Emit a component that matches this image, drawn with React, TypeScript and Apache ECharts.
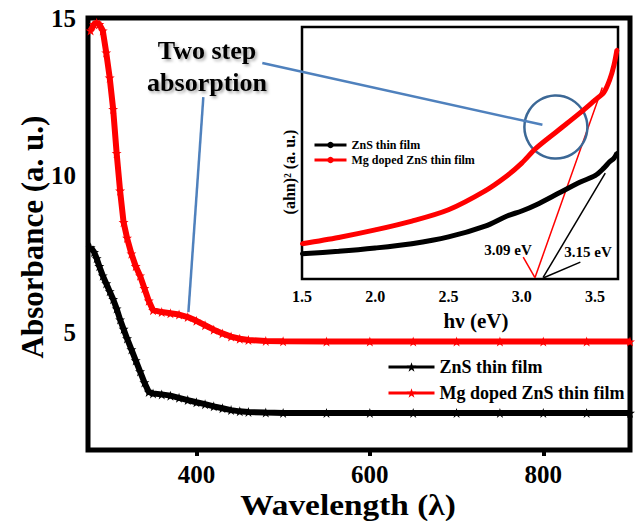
import React, { useEffect, useRef } from "react";
import * as echarts from "echarts";

// ---- Main chart data (wavelength in nm, absorbance a.u.) ----
const wavelength = [278, 282, 285, 288, 292, 296, 300, 304, 308, 312, 316, 320, 325, 330, 335, 340, 345, 350, 360, 370, 380, 390, 400, 410, 420, 430, 440, 450, 460, 480, 500, 550, 600, 650, 700, 750, 800, 850, 900];
const znsAbs = [7.7, 7.55, 7.35, 7.1, 6.8, 6.55, 6.3, 6.05, 5.75, 5.4, 5.1, 4.8, 4.45, 4.1, 3.75, 3.4, 3.1, 3.05, 3.02, 2.98, 2.91, 2.84, 2.77, 2.71, 2.64, 2.58, 2.52, 2.48, 2.46, 2.44, 2.43, 2.43, 2.43, 2.43, 2.43, 2.43, 2.43, 2.43, 2.43];
const mgAbs = [14.6, 14.8, 14.85, 14.8, 14.6, 13.9, 13.1, 12.1, 10.7, 9.5, 8.5, 8.0, 7.5, 7.1, 6.8, 6.4, 6.0, 5.7, 5.64, 5.6, 5.56, 5.48, 5.36, 5.22, 5.08, 4.96, 4.86, 4.79, 4.75, 4.72, 4.71, 4.7, 4.7, 4.7, 4.7, 4.7, 4.7, 4.7, 4.7];
const xTicks = [400, 600, 800];
const yTicks = [5, 10, 15];

// ---- Inset data (photon energy eV, (ahn)^2 a.u.) ----
const hv = [1.5, 1.75, 2.0, 2.25, 2.5, 2.75, 2.9, 3.0, 3.1, 3.25, 3.4, 3.5, 3.56, 3.6, 3.63, 3.65];
const insetMg = [14, 16.5, 19.5, 23, 27.5, 35, 41, 46, 52, 59, 66, 71, 74, 79, 85, 91];
const insetZnS = [10, 11, 12.3, 14, 16.7, 21, 25, 27, 29.5, 34, 38.5, 41, 44, 46.5, 48, 50];
const insetTicks = [1.5, 2.0, 2.5, 3.0, 3.5];
const gapMg = 3.09;
const gapZnS = 3.15;

const STAR = "path://M50,0 L61.8,35.1 L98.9,35.1 L68.9,56.8 L80.3,91.9 L50,70.2 L19.7,91.9 L31.1,56.8 L1.1,35.1 L38.2,35.1 Z";
const FONT = "Times New Roman, Liberation Serif, Tinos, serif";
const BLUE = "#4F81BD";

export default function App() {
  const ref = useRef<HTMLDivElement>(null);
  useEffect(() => {
    if (!ref.current) return;
    const chart = echarts.init(ref.current, null, { renderer: "svg" });
    const lbl = (fs: number) => ({ fontFamily: FONT, fontWeight: "bold" as const, fontSize: fs, color: "#000" });
    const gtext = (text: string, x: number, y: number, fs: number, rot = 0, shadow = false, sx = 1) => ({
      type: "text", x, y, rotation: rot, scaleX: sx, z: 20,
      style: {
        text, fontFamily: FONT, fontWeight: "bold", fontSize: fs, fill: "#000", align: "center", verticalAlign: "middle",
        ...(shadow ? { textShadowColor: "rgba(0,0,0,0.35)", textShadowBlur: 3, textShadowOffsetX: 2, textShadowOffsetY: 2 } : {}),
      },
    });
    const option: any = {
      animation: false,
      textStyle: { fontFamily: FONT },
      grid: [
        { left: 88, top: 18, right: 5, bottom: 71, show: true, borderColor: "#000", borderWidth: 5, backgroundColor: "#fff" },
        { left: 302, top: 27, width: 316, height: 252, show: true, borderColor: "#000", borderWidth: 2.5, backgroundColor: "#fff", z: 3 },
      ],
      xAxis: [
        {
          gridIndex: 0, type: "value", min: 275, max: 900,
          axisLine: { show: false }, splitLine: { show: false },
          axisTick: { show: true, inside: false, length: 6, lineStyle: { width: 4, color: "#000" }, customValues: xTicks },
          axisLabel: { ...lbl(25), margin: 12, customValues: xTicks },
        },
        {
          gridIndex: 1, type: "value", min: 1.5, max: 3.657,
          axisLine: { show: false }, splitLine: { show: false },
          axisTick: { show: false },
          axisLabel: { ...lbl(16), margin: 9, customValues: insetTicks, formatter: (v: number) => v.toFixed(1) },
        },
      ],
      yAxis: [
        {
          gridIndex: 0, type: "value", min: 1.25, max: 15,
          axisLine: { show: false }, splitLine: { show: false }, axisTick: { show: false },
          axisLabel: { ...lbl(25), margin: 12, customValues: yTicks },
        },
        {
          gridIndex: 1, type: "value", min: 0, max: 100,
          axisLine: { show: false }, splitLine: { show: false }, axisTick: { show: false }, axisLabel: { show: false },
        },
      ],
      legend: [
        {
          data: ["ZnS thin film", "Mg doped ZnS thin film"],
          orient: "vertical", left: 382, top: 353, itemWidth: 46, itemHeight: 12, itemGap: 8,
          textStyle: lbl(18), lineStyle: { width: 3 },
        },
        {
          data: ["inset ZnS", "inset Mg"],
          orient: "vertical", left: 308, top: 134, itemWidth: 32, itemHeight: 8, itemGap: 3, z: 10,
          textStyle: lbl(12), lineStyle: { width: 3 },
          formatter: (n: string) => (n === "inset ZnS" ? "ZnS thin film" : "Mg doped ZnS thin film"),
        },
      ],
      series: [
        {
          name: "ZnS thin film", type: "line", xAxisIndex: 0, yAxisIndex: 0,
          data: wavelength.map((w, i) => [w, znsAbs[i]]),
          symbol: STAR, symbolSize: 10, showAllSymbol: true,
          lineStyle: { color: "#000", width: 6 }, itemStyle: { color: "#000" },
        },
        {
          name: "Mg doped ZnS thin film", type: "line", xAxisIndex: 0, yAxisIndex: 0,
          data: wavelength.map((w, i) => [w, mgAbs[i]]),
          symbol: STAR, symbolSize: 10, showAllSymbol: true,
          lineStyle: { color: "#ff0000", width: 6 }, itemStyle: { color: "#ff0000" },
          markLine: {
            silent: true, symbol: ["none", "arrow"], symbolSize: [0, 11], z: 20,
            label: { show: false },
            lineStyle: { color: BLUE, width: 2.5, type: "solid" },
            data: [
              [{ coord: [476, 13.57] }, { coord: [799, 11.6] }],
              [{ coord: [408, 12.48] }, { coord: [390.8, 5.64] }],
            ],
          },
        },
        {
          name: "inset ZnS", type: "line", xAxisIndex: 1, yAxisIndex: 1, z: 5,
          data: hv.map((x, i) => [x, insetZnS[i]]), smooth: 0.3,
          symbol: "circle", symbolSize: 4, showAllSymbol: true,
          lineStyle: { color: "#000", width: 5 }, itemStyle: { color: "#000" },
          markLine: {
            silent: true, symbol: ["none", "arrow"], symbolSize: [0, 8],
            label: { show: false },
            lineStyle: { color: "#000", width: 1.5, type: "solid" },
            data: [
              [{ coord: [3.57, 42] }, { coord: [gapZnS - 0.005, 0.5] }],
              [{ coord: [gapZnS, 0.5] }, { coord: [3.40, 6.7] }],
            ],
          },
          markPoint: {
            silent: true, symbol: "circle", symbolSize: 0,
            data: [{ coord: [3.452, 10.7], value: 0 }],
            label: { show: true, position: "inside", formatter: gapZnS.toFixed(2) + " eV", ...lbl(15) },
          },
        },
        {
          name: "inset Mg", type: "line", xAxisIndex: 1, yAxisIndex: 1, z: 5,
          data: hv.map((x, i) => [x, insetMg[i]]), smooth: 0.3,
          symbol: "circle", symbolSize: 4, showAllSymbol: true,
          lineStyle: { color: "#ff0000", width: 5 }, itemStyle: { color: "#ff0000" },
          markLine: {
            silent: true, symbol: ["none", "arrow"], symbolSize: [0, 8],
            label: { show: false },
            lineStyle: { color: "#ff0000", width: 1.5, type: "solid" },
            data: [
              [{ coord: [3.55, 76] }, { coord: [gapMg, 0.5] }],
              [{ coord: [gapMg, 0.5] }, { coord: [3.01, 8.7] }],
            ],
          },
          markPoint: {
            silent: true,
            data: [
              {
                coord: [2.906, 11.5], symbol: "circle", symbolSize: 0,
                label: { show: true, position: "inside", formatter: gapMg.toFixed(2) + " eV", ...lbl(15) },
              },
              {
                coord: [3.233, 60.3], symbol: "circle", symbolSize: 63,
                itemStyle: { color: "rgba(0,0,0,0)", borderColor: "#3C6896", borderWidth: 2.5 },
                label: { show: false },
              },
            ],
          },
        },
      ],
      graphic: [
        gtext("Absorbance (a. u.)", 32, 237, 31, Math.PI / 2),
        gtext("Wavelength (λ)", 348, 505, 29, 0, false, 1.15),
        gtext("(ahn)² (a. u.)", 289, 172, 16, Math.PI / 2),
        gtext("hν (eV)", 476, 321, 21),
        gtext("Two step", 207, 50, 26, 0, true),
        gtext("absorption", 207, 82, 26, 0, true),
      ],
    };
    chart.setOption(option);
    return () => chart.dispose();
  }, []);
  return <div ref={ref} style={{ position: "fixed", left: 0, top: 0, width: 635, height: 521, background: "#fff" }} />;
}
